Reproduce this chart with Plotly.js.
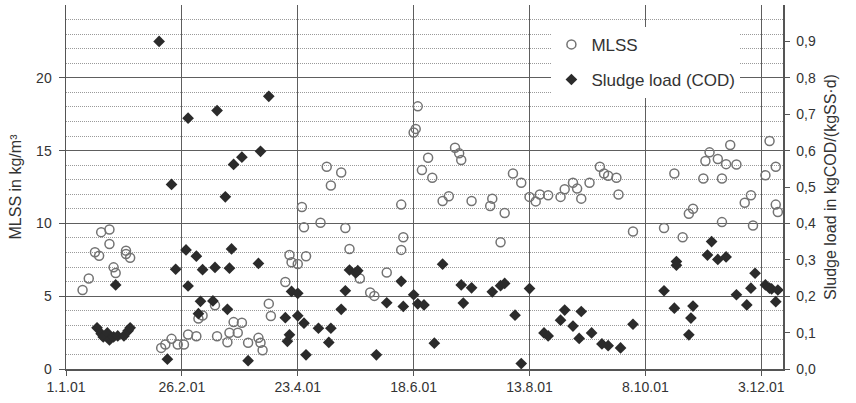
<!DOCTYPE html>
<html>
<head>
<meta charset="utf-8">
<script src="https://cdn.plot.ly/plotly-3.0.1.min.js"></script>
<style>
html,body{margin:0;padding:0;background:#fff;}
#chart{width:856px;height:403px;}
</style>
</head>
<body>
<div id="chart"></div>
<script>
// ---- data ----
const mlssDates = [
 '2001-01-09','2001-01-12','2001-01-15','2001-01-17','2001-01-18','2001-01-22','2001-01-22','2001-01-24','2001-01-25','2001-01-30',
 '2001-01-30','2001-02-01','2001-02-16','2001-02-18','2001-02-21','2001-02-24','2001-02-27','2001-03-01','2001-03-05','2001-03-06',
 '2001-03-08','2001-03-14','2001-03-15','2001-03-20','2001-03-21','2001-03-23','2001-03-25','2001-03-27','2001-03-30','2001-04-04',
 '2001-04-05','2001-04-06','2001-04-09','2001-04-10','2001-04-17','2001-04-19','2001-04-20','2001-04-23','2001-04-25','2001-04-26',
 '2001-04-27','2001-05-04','2001-05-07','2001-05-09','2001-05-14','2001-05-16','2001-05-18','2001-05-23','2001-05-28','2001-05-30',
 '2001-06-05','2001-06-12','2001-06-12','2001-06-13','2001-06-18','2001-06-19','2001-06-20','2001-06-22','2001-06-25','2001-06-27',
 '2001-07-02','2001-07-05','2001-07-08','2001-07-10','2001-07-11','2001-07-16','2001-07-25','2001-07-26','2001-07-30','2001-08-01',
 '2001-08-05','2001-08-09','2001-08-13','2001-08-16','2001-08-18','2001-08-22','2001-08-28','2001-08-30','2001-09-03','2001-09-05',
 '2001-09-07','2001-09-11','2001-09-16','2001-09-18','2001-09-20','2001-09-24','2001-09-25','2001-10-02','2001-10-17','2001-10-22',
 '2001-10-26','2001-10-29','2001-10-31','2001-11-05','2001-11-06','2001-11-08','2001-11-12','2001-11-14','2001-11-14','2001-11-16',
 '2001-11-18','2001-11-21','2001-11-25','2001-11-28','2001-11-29','2001-12-05','2001-12-07','2001-12-10','2001-12-10','2001-12-11'
];
const mlssValues = [
 5.43,6.22,8.02,7.78,9.40,9.58,8.59,6.98,6.59,8.13,
 7.90,7.64,1.45,1.68,2.07,1.68,1.68,2.37,2.25,3.46,
 3.68,4.37,2.25,1.84,2.49,3.22,2.49,3.18,1.80,2.14,
 1.80,1.29,4.49,3.64,5.98,7.83,7.33,7.21,11.13,9.74,
 7.74,10.04,13.89,12.60,13.50,9.68,8.24,6.22,5.25,5.02,
 6.63,8.18,11.29,9.05,16.24,16.49,18.04,13.66,14.51,13.13,
 11.54,11.86,15.20,14.81,14.35,11.54,11.20,11.70,8.71,10.71,
 13.43,12.79,11.82,11.51,11.98,11.93,11.82,12.34,12.79,12.39,
 11.70,12.79,13.89,13.43,13.27,13.13,11.98,9.44,9.68,13.43,
 9.05,10.66,11.01,13.08,14.28,14.88,14.42,13.08,10.09,14.07,
 15.38,14.05,11.42,11.93,9.86,13.31,15.66,13.89,11.29,10.78
];
const loadDates = [
 '2001-01-16','2001-01-18','2001-01-19','2001-01-21','2001-01-22','2001-01-24','2001-01-25','2001-01-26','2001-01-29','2001-01-31',
 '2001-02-01','2001-02-15','2001-02-19','2001-02-21','2001-02-23','2001-02-28','2001-03-01','2001-03-01','2001-03-05','2001-03-06',
 '2001-03-07','2001-03-08','2001-03-13','2001-03-14','2001-03-15','2001-03-19','2001-03-20','2001-03-21','2001-03-22','2001-03-23',
 '2001-03-27','2001-03-30','2001-04-04','2001-04-05','2001-04-09','2001-04-17','2001-04-18','2001-04-19','2001-04-20','2001-04-23',
 '2001-04-23','2001-04-26','2001-04-27','2001-05-03','2001-05-08','2001-05-09','2001-05-14','2001-05-16','2001-05-18','2001-05-21',
 '2001-05-22','2001-05-31','2001-06-05','2001-06-12','2001-06-13','2001-06-18','2001-06-20','2001-06-23','2001-06-28','2001-07-02',
 '2001-07-11','2001-07-12','2001-07-16','2001-07-26','2001-07-30','2001-08-01','2001-08-06','2001-08-09','2001-08-13','2001-08-20',
 '2001-08-22','2001-08-28','2001-08-30','2001-09-03','2001-09-06','2001-09-07','2001-09-12','2001-09-17','2001-09-20','2001-09-26',
 '2001-10-02','2001-10-17','2001-10-22','2001-10-23','2001-10-23','2001-10-29','2001-10-30','2001-10-31','2001-11-07','2001-11-09',
 '2001-11-12','2001-11-16','2001-11-21','2001-11-26','2001-11-28','2001-11-30','2001-12-05','2001-12-07','2001-12-08','2001-12-10',
 '2001-12-11'
];
const loadValues = [
 0.113,0.097,0.088,0.099,0.080,0.088,0.231,0.091,0.091,0.105,
 0.113,0.900,0.027,0.507,0.274,0.327,0.689,0.228,0.310,0.152,
 0.186,0.273,0.187,0.279,0.710,0.473,0.164,0.277,0.330,0.562,
 0.582,0.023,0.290,0.598,0.749,0.141,0.076,0.094,0.213,0.208,
 0.146,0.126,0.039,0.112,0.073,0.112,0.164,0.215,0.272,0.264,
 0.270,0.039,0.182,0.241,0.172,0.204,0.179,0.176,0.071,0.288,
 0.231,0.181,0.223,0.212,0.229,0.235,0.148,0.015,0.221,0.099,
 0.091,0.134,0.162,0.118,0.084,0.158,0.099,0.069,0.064,0.058,
 0.123,0.215,0.167,0.295,0.285,0.094,0.140,0.173,0.313,0.350,
 0.301,0.308,0.204,0.176,0.222,0.263,0.231,0.222,0.220,0.185,
 0.217
];
const xTickDates = ['2001-01-01','2001-02-26','2001-04-23','2001-06-18','2001-08-13','2001-10-08','2001-12-03'];
const xTickLabels = ['1.1.01','26.2.01','23.4.01','18.6.01','13.8.01','8.10.01','3.12.01'];
const yLeftTicks = [0,5,10,15,20];
const yRightTicks = [0,0.1,0.2,0.3,0.4,0.5,0.6,0.7,0.8,0.9];

const FONT = '"Liberation Sans", Arial, Helvetica, sans-serif';
const traces = [
  {
    x: mlssDates, y: mlssValues, name: 'MLSS', type: 'scatter', mode: 'markers',
    legendgroup: 'a', yaxis: 'y',
    marker: {symbol: 'circle-open', size: 9, color: '#737373', line: {width: 1.5, color: '#737373'}}
  },
  {
    x: loadDates, y: loadValues, name: 'Sludge load (COD)', type: 'scatter', mode: 'markers',
    legendgroup: 'b', yaxis: 'y2',
    marker: {symbol: 'diamond', size: 9, color: '#2b2b2b', line: {width: 0}}
  }
];

const layout = {
  width: 856, height: 403,
  margin: {l: 66, r: 73, t: 5, b: 34, pad: 0},
  paper_bgcolor: '#ffffff', plot_bgcolor: '#ffffff',
  separators: ',.',
  font: {family: FONT, size: 14, color: '#333333'},
  showlegend: true,
  legend: {
    x: 0.677, y: 0.94, xanchor: 'left', yanchor: 'top',
    bgcolor: '#ffffff', borderwidth: 0,
    font: {family: FONT, size: 17, color: '#333333'},
    traceorder: 'grouped', tracegroupgap: 10
  },
  xaxis: {
    type: 'date', range: ['2001-01-01', '2001-12-13 12:00'],
    tickmode: 'array', tickvals: xTickDates, ticktext: xTickLabels,
    showgrid: true, gridcolor: '#5e5e5e', gridwidth: 1,
    ticks: 'outside', ticklen: 5, tickcolor: '#555555',
    showline: true, linecolor: '#555555', linewidth: 1.5, zeroline: false,
    tickfont: {family: FONT, size: 14, color: '#333333'}
  },
  yaxis: {
    range: [0, 25], tickmode: 'array', tickvals: yLeftTicks,
    showgrid: true, gridcolor: '#5e5e5e', gridwidth: 1,
    minor: {dtick: 1, tick0: 0, showgrid: true, gridcolor: '#9a9a9a', griddash: '1px,1px', gridwidth: 1},
    ticks: 'outside', ticklen: 6, tickcolor: '#555555',
    showline: true, linecolor: '#555555', linewidth: 1.5, zeroline: false,
    tickfont: {family: FONT, size: 14, color: '#333333'},
    ticklabelstandoff: 4,
    title: {text: 'MLSS in kg/m³', font: {family: FONT, size: 16, color: '#333333'}, standoff: 10}
  },
  yaxis2: {
    overlaying: 'y', side: 'right', range: [0, 1],
    tickmode: 'array', tickvals: yRightTicks, tickformat: '.1f',
    showgrid: false, zeroline: false,
    ticks: 'outside', ticklen: 5, tickcolor: '#555555',
    showline: true, linecolor: '#555555', linewidth: 1.5,
    tickfont: {family: FONT, size: 14, color: '#333333'},
    ticklabelstandoff: 4,
    title: {text: 'Sludge load in kgCOD/(kgSS·d)', font: {family: FONT, size: 16, color: '#333333'}, standoff: 10}
  },
  yaxis3: {
    overlaying: 'y', side: 'right', range: [0, 1],
    tickmode: 'array', tickvals: yRightTicks, showticklabels: false,
    showgrid: false, zeroline: false, showline: false,
    ticks: 'inside', ticklen: 5, tickcolor: '#555555'
  }
};

Plotly.newPlot('chart', traces, layout, {displayModeBar: false, staticPlot: true});
</script>
</body>
</html>
